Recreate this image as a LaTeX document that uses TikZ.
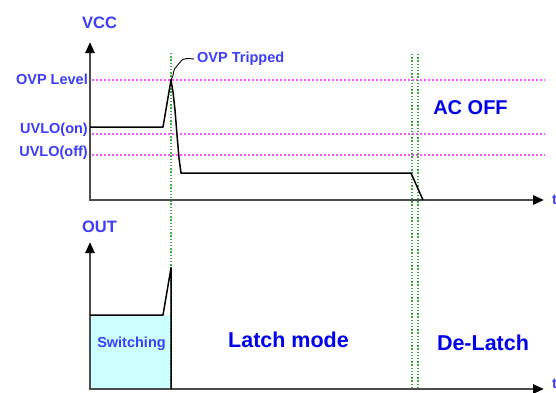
\documentclass[tikz,border=0pt]{standalone}
\usepackage{fontspec}
\setmainfont{Liberation Sans}
\usetikzlibrary{arrows.meta}
\definecolor{lblblue}{RGB}{60,60,250}
\definecolor{bigblue}{RGB}{0,0,235}
\definecolor{lvlpink}{RGB}{255,80,255}
\definecolor{mkgreen}{RGB}{60,170,60}
\definecolor{swfill}{RGB}{204,255,255}
\tikzset{
	axis/.style={line width=2.4pt, black!70, {Triangle[length=11pt,width=9pt,color=black]}-{Triangle[length=11pt,width=9pt,color=black]}},
	level/.style={lvlpink, line width=1.8pt, dash pattern=on 1.8pt off 2.2pt},
	marker/.style={mkgreen, line width=1.4pt, dash pattern=on 1.4pt off 1.8pt},
	wave/.style={black, line width=1.5pt, line join=round},
	lbl/.style={lblblue, font=\fontsize{14.5}{16}\selectfont\bfseries, inner sep=0pt},
	big/.style={bigblue, font=\fontsize{21.5}{24}\selectfont\bfseries, inner sep=0pt}
}

\begin{document}
\begin{tikzpicture}[x=1pt, y=-1pt]
		\useasboundingbox (0,0) rectangle (556,392);
		% levels
		\draw [level] (92,80) -- (545,80);
		\draw [level] (92,134) -- (545,134);
		\draw [level] (92,155) -- (545,155);
		\node [lbl, anchor=east] (ovp) at (88,79.5) {OVP Level};
		\node [lbl, anchor=east] (uvloon) at (88,130) {UVLO(on)};
		\node [lbl, anchor=east] (uvlooff) at (88,153) {UVLO(off)};
		% switching area
		\fill [swfill] (90,315) rectangle (171,389);
		% markers
		\draw [marker] (171,53) -- (171,389);
		\draw [marker] (412,54) -- (412,388);
		\draw [marker] (418,54) -- (418,388);
		% axes
		\draw [axis] (90,42) -- (90,200) -- (544,200);
		\draw [axis] (90,242) -- (90,389) -- (544,389);
		\node [lbl, font=\fontsize{16.5}{18}\selectfont\bfseries] (vcc) at (99.5,23) {VCC};
		\node [lbl, font=\fontsize{16.5}{18}\selectfont\bfseries] (out) at (99.5,227) {OUT};
		\node [lbl, anchor=west] (t1) at (552,200) {t};
		\node [lbl, anchor=west] (t2) at (552,384) {t};
		% waveforms
		\draw [wave] (90,127) -- (163,127) -- (171,80) -- (173,92) -- (175,110) -- (177,135) -- (179,158) -- (181,173) -- (411,173) -- (423,200);
		\draw [wave] (90,315) -- (163,315) -- (171,268) -- (171,389);
		% trip note
		\coordinate (peak) at (171,80);
		\node [lbl, anchor=west] (tripped) at (197,59) {OVP Tripped};
		\draw [black, line width=0.9pt] (peak) .. controls (175,73) and (172,70) .. (177,66) .. controls (181,62) and (180,57) .. ([xshift=-3pt]tripped.west);
		% modes
		\node [big, font=\fontsize{20}{22}\selectfont\bfseries] (acoff) at (470.5,107.5) {AC OFF};
		\node [lbl] (sw) at (131.5,344) {Switching};
		\node [big] (latch) at (288.5,340) {Latch mode};
		\node [big] (delatch) at (483,343) {De-Latch};
	\end{tikzpicture}
\end{document}
